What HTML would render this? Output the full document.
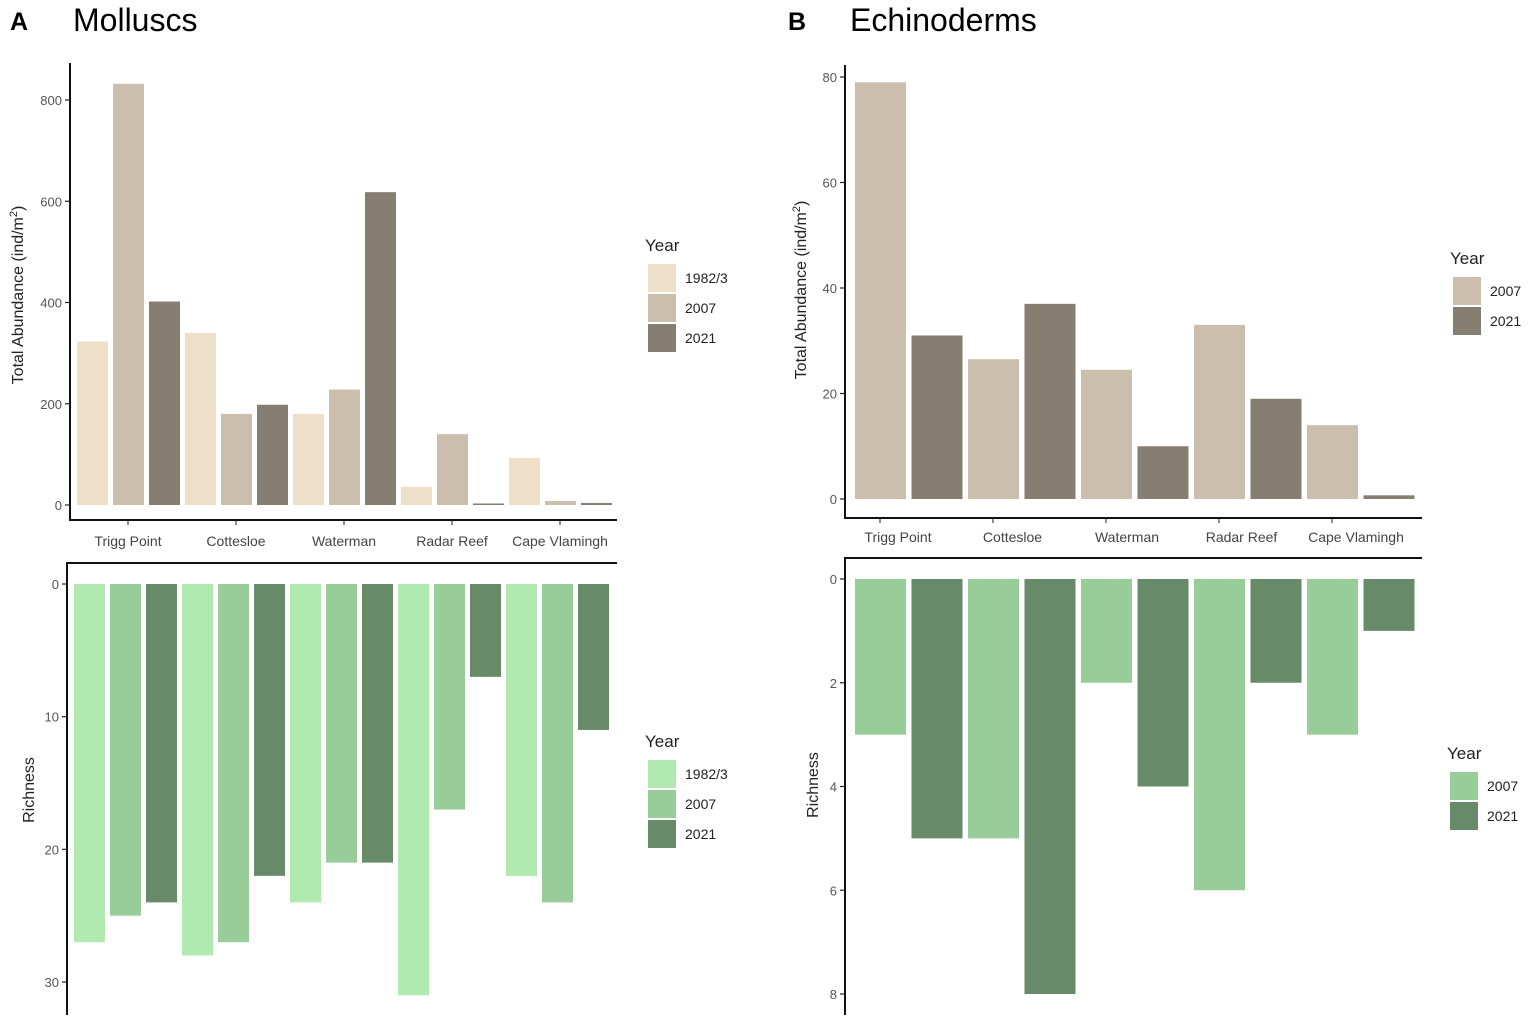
<!DOCTYPE html>
<html><head><meta charset="utf-8"><style>
body{margin:0;background:#fff;}
svg{display:block;font-family:"Liberation Sans",Arial,sans-serif;}
</style></head><body>
<svg id="c" width="1537" height="1022">
<text x="10" y="30" font-size="25" font-weight="bold">A</text>
<text x="73" y="31" font-size="32">Molluscs</text>
<text x="788" y="30" font-size="25" font-weight="bold">B</text>
<text x="850" y="31" font-size="32">Echinoderms</text>
</svg>
<script>
const sitesA = ["Trigg Point","Cottesloe","Waterman","Radar Reef","Cape Vlamingh"];
const yearsA = ["1982/3","2007","2021"];
const abundA1982 = [323,340,180,36,93];
const abundA2007 = [832,180,228,140,8];
const abundA2021 = [402,198,618,3,4];
const richA1982 = [27,28,24,31,22];
const richA2007 = [25,27,21,17,24];
const richA2021 = [24,22,21,7,11];
const yearsB = ["2007","2021"];
const abundB2007 = [79,26.5,24.5,33,14];
const abundB2021 = [31,37,10,19,0.7];
const richB2007 = [3,5,2,6,3];
const richB2021 = [5,8,4,2,1];
const ticksAbA = [0,200,400,600,800];
const ticksRiA = [0,10,20,30];
const ticksAbB = [0,20,40,60,80];
const ticksRiB = [0,2,4,6,8];

const NS="http://www.w3.org/2000/svg";
const svg=document.getElementById('c');
function el(t,a,txt){const e=document.createElementNS(NS,t);for(const k in a)e.setAttribute(k,a[k]);if(txt!==undefined)e.textContent=txt;svg.appendChild(e);return e;}
const brown=["#eedfc9","#cbbead","#877e72"];
const green=["#b0eab0","#98cc98","#678a68"];

function axisY(x,y0,pxPer,ticks,name,down){
  ticks.forEach(t=>{const y=down?y0+t*pxPer:y0-t*pxPer;
    const l=el('line',{x1:x-5,x2:x,y1:y,y2:y,stroke:'#222','stroke-width':1.2});
    
    const tx=el('text',{x:x-8,y:y+5,'font-size':13,fill:'#555','text-anchor':'end'},String(t));
    });
}
function bars(series,colors,x0,step,w,base,pxPer,down,name){
  const nS=series.length;
  for(let g=0;g<5;g++)for(let s=0;s<nS;s++){
    const v=series[s][g];const x=x0+(g*nS+s)*step;const h=v*pxPer;
    const r=el('rect',{x:x,y:down?base:base-h,width:w,height:Math.max(h,1),fill:colors[s]});
    }
}
function legend(x,y,years,colors,name){
  const t=el('text',{x:x-3,y:y,'font-size':17,fill:'#222'},'Year');
  
  years.forEach((yr,i)=>{const r=el('rect',{x:x,y:y+13+i*30,width:28,height:28,fill:colors[i]});
    
    const tx=el('text',{x:x+37,y:y+32+i*30,'font-size':14,fill:'#222'},yr);
    });
}
function ytitle(x,y,txt,name,sup){
  const t=el('text',{x:0,y:0,'font-size':16,fill:'#222','text-anchor':'middle',transform:`translate(${x},${y}) rotate(-90)`});
  t.textContent=txt;
  if(sup){const s=document.createElementNS(NS,'tspan');s.setAttribute('dy','-6');s.setAttribute('font-size','11');s.textContent='2';t.appendChild(s);
    const s2=document.createElementNS(NS,'tspan');s2.setAttribute('dy','6');s2.textContent=')';t.appendChild(s2);}
  
}
function line(x1,y1,x2,y2,name){const l=el('line',{x1,y1,x2,y2,stroke:'#111','stroke-width':2});}

// Panel A top
const pA=405/800;
bars([abundA1982,abundA2007,abundA2021],brown,77,36,31,505,pA,false,'abundance-a');
line(70,63,70,521,'y-axis-a-top');line(69,520,617,520,'x-axis-a-top');
axisY(70,505,pA,ticksAbA,'y-axis-a-top',false);
sitesA.forEach((s,i)=>{const cx=128+i*108;
  const l=el('line',{x1:cx,x2:cx,y1:520,y2:525,stroke:'#222'});
  const t=el('text',{x:cx,y:546,'font-size':14,fill:'#444','text-anchor':'middle'},s);});
ytitle(23,295,'Total Abundance (ind/m','y-axis-title-a-top',true);
legend(648,251,yearsA,brown,'legend-a-top');

// Panel A bottom
const rA=398/30;
bars([richA1982,richA2007,richA2021],green,74,36,31,584,rA,true,'richness-a');
line(67,563,617,563,'x-axis-a-bottom');line(67,562,67,1015,'y-axis-a-bottom');
axisY(67,584,rA,ticksRiA,'y-axis-a-bottom',true);
ytitle(34,790,'Richness','y-axis-title-a-bottom',false);
legend(648,747,yearsA,green,'legend-a-bottom');

// Panel B top
const pB=422/80;
bars([abundB2007,abundB2021],[brown[1],brown[2]],855,56.5,51,499,pB,false,'abundance-b');
line(845,65,845,519,'y-axis-b-top');line(844,518,1422,518,'x-axis-b-top');
axisY(845,499,pB,ticksAbB,'y-axis-b-top',false);
sitesA.forEach((s,i)=>{const tx=880+i*113;
  const l=el('line',{x1:tx,x2:tx,y1:518,y2:523,stroke:'#222'});
  const t=el('text',{x:898+i*114.5,y:542,'font-size':14,fill:'#444','text-anchor':'middle'},s);});
ytitle(806,290,'Total Abundance (ind/m','y-axis-title-b-top',true);
legend(1453,264,yearsB,[brown[1],brown[2]],'legend-b-top');

// Panel B bottom
const rB=415/8;
bars([richB2007,richB2021],[green[1],green[2]],855,56.5,51,579,rB,true,'richness-b');
line(845,558,1422,558,'x-axis-b-bottom');line(845,557,845,1015,'y-axis-b-bottom');
axisY(845,579,rB,ticksRiB,'y-axis-b-bottom',true);
ytitle(818,785,'Richness','y-axis-title-b-bottom',false);
legend(1450,759,yearsB,[green[1],green[2]],'legend-b-bottom');
</script>
</body></html>
